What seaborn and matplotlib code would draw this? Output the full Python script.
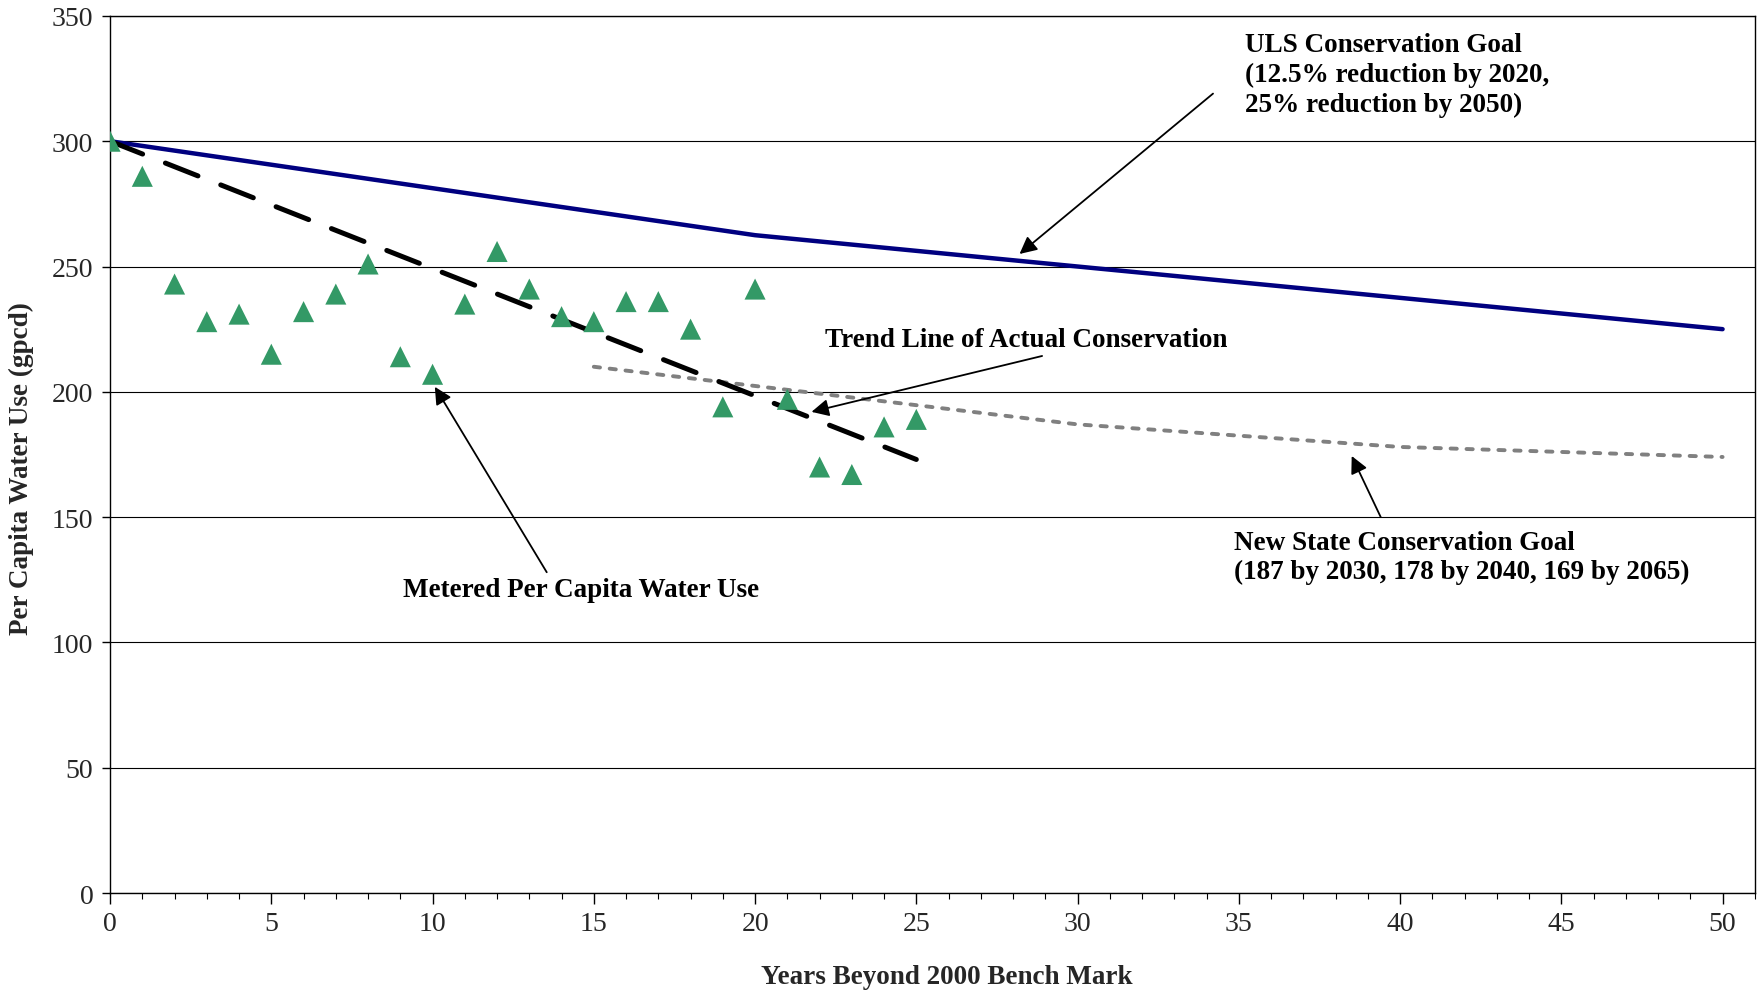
import matplotlib
matplotlib.use("Agg")
import matplotlib.pyplot as plt
import seaborn as sns
import pandas as pd
from matplotlib.ticker import MultipleLocator

# metered per capita use, years beyond 2000
years = list(range(0, 26))
metered = [300, 286, 243, 228, 231, 215, 232, 239, 251, 214, 207, 235, 256,
           241, 230, 228, 236, 236, 225, 194, 241, 197, 170, 167, 186, 189]

uls_years = [0, 20, 50]
uls_goal = [300, 262.5, 225]

trend_years = [0, 25]
trend_vals = [300, 173]

state_years = [15, 30, 40, 50]
state_goal = [210, 187, 178, 174]

sns.set_theme(style="white")
plt.rcParams['font.family'] = ['Liberation Serif', 'DejaVu Serif']

fig = plt.figure(figsize=(17.61, 9.95), dpi=100)
ax = fig.add_axes([0.0625, 0.1015, 0.934, 0.8815])

ax.yaxis.grid(True, color='black', lw=0.8)
ax.set_axisbelow(True)

sns.lineplot(x=uls_years, y=uls_goal, ax=ax, color='#000080', lw=3.2, zorder=3)
sns.lineplot(x=state_years, y=state_goal, ax=ax, color='#808080', lw=2.8, zorder=3)
ax.lines[-1].set_dashes((1.6, 2.5))
ax.lines[-1].set_dash_capstyle('round')
sns.lineplot(x=trend_years, y=trend_vals, ax=ax, color='black', lw=3.6, zorder=4)
ax.lines[-1].set_dashes((7, 4.9))
ax.lines[-1].set_dash_capstyle('round')

df = pd.DataFrame({'year': years, 'gpcd': metered})
sns.scatterplot(data=df, x='year', y='gpcd', ax=ax, marker='^', s=230,
                color='#339966', edgecolor='none', zorder=5)

ax.set_xlim(0, 51)
ax.set_ylim(0, 350)
ax.set_xticks(range(0, 51, 5))
ax.xaxis.set_minor_locator(MultipleLocator(1))
ax.set_yticks(range(0, 351, 50))
ax.tick_params(axis='x', which='major', direction='out', length=8, width=1,
               labelsize=20, pad=5, bottom=True, color='black')
ax.tick_params(axis='x', which='minor', direction='out', length=4, width=0.8,
               bottom=True, color='black')
ax.tick_params(axis='y', direction='out', length=6, width=1, labelsize=20,
               pad=6, left=True, color='black')
for sp in ax.spines.values():
    sp.set_color('black')
    sp.set_linewidth(1.0)

ax.set_xlabel('Years Beyond 2000 Bench Mark', fontsize=19.5, fontweight='bold')
ax.xaxis.set_label_coords(0.509, -0.081)
ax.set_ylabel('Per Capita Water Use (gpcd)', fontsize=19.5, fontweight='bold')
ax.yaxis.set_label_coords(-0.046, 0.485)

arrow = dict(arrowstyle='-|>', color='black', lw=1.3, mutation_scale=26,
             shrinkA=0, shrinkB=0)
txt = dict(fontsize=19.5, fontweight='bold', color='black')

ax.annotate('', xy=(28.2, 255), xytext=(34.2, 319), arrowprops=arrow)
ax.text(35.2, 343.5, 'ULS Conservation Goal\n(12.5% reduction by 2020,\n25% reduction by 2050)',
        ha='left', va='top', linespacing=1.24, **txt)

ax.annotate('', xy=(21.75, 192), xytext=(28.9, 214.3), arrowprops=arrow)
ax.text(28.4, 220.7, 'Trend Line of Actual Conservation', ha='center',
        va='center', **txt)

ax.annotate('', xy=(10.07, 202), xytext=(13.54, 128), arrowprops=arrow)
ax.text(14.6, 121, 'Metered Per Capita Water Use', ha='center', va='center', **txt)

ax.annotate('', xy=(38.5, 174.4), xytext=(39.4, 150), arrowprops=arrow)
ax.text(34.85, 145, 'New State Conservation Goal\n(187 by 2030, 178 by 2040, 169 by 2065)',
        ha='left', va='top', linespacing=1.24, **txt)

fig.savefig('out.png', dpi=100)
